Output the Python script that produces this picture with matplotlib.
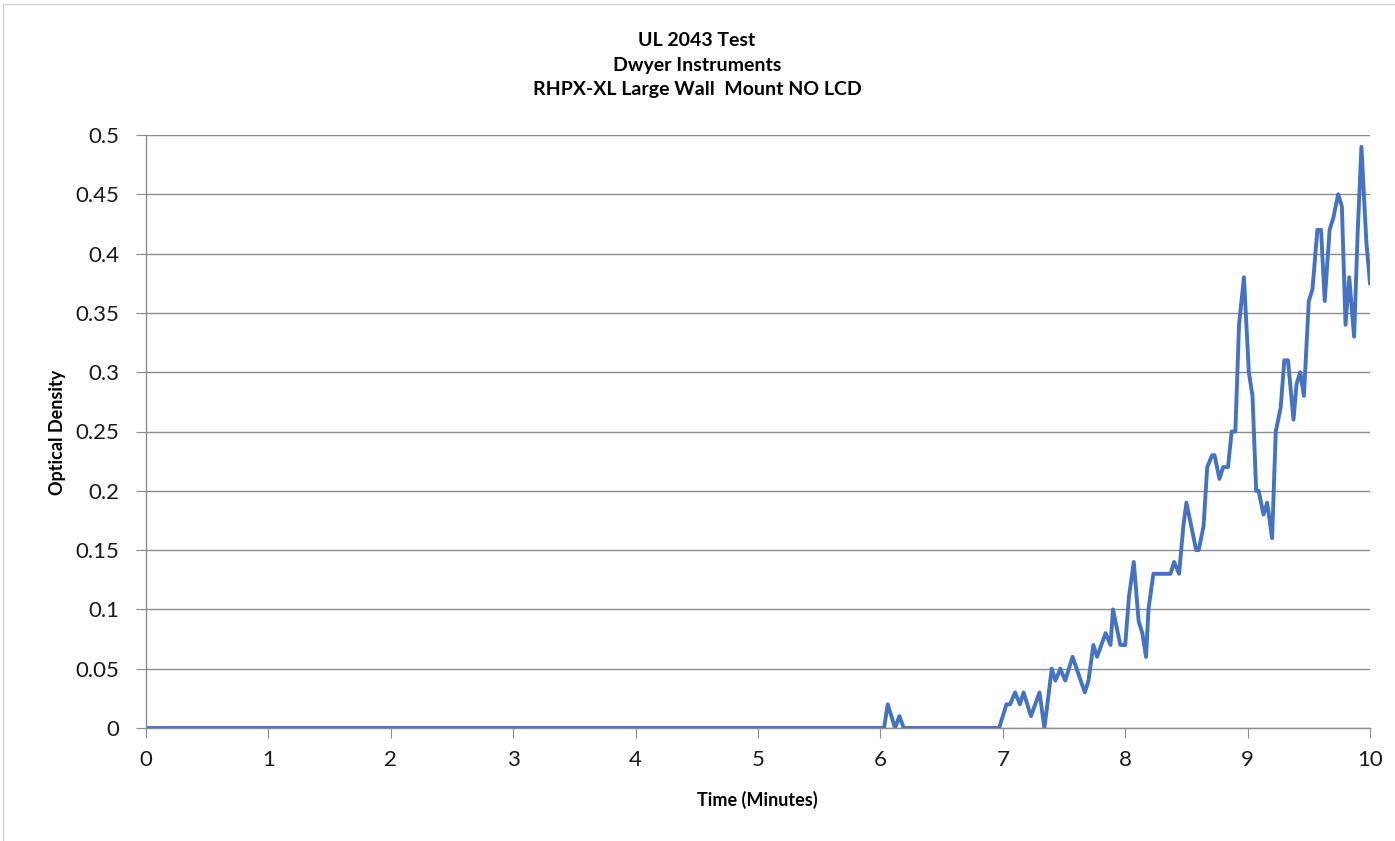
import matplotlib.pyplot as plt
from matplotlib.lines import Line2D

# readings (minutes, optical density)
time_min = [0.0, 6.03, 6.06, 6.12, 6.155, 6.19, 6.97,
            7.03, 7.06, 7.10, 7.14, 7.17, 7.23, 7.30, 7.34, 7.40, 7.43, 7.47, 7.51,
            7.57, 7.67, 7.70, 7.74, 7.77, 7.84, 7.88, 7.90, 7.96, 8.00,
            8.03, 8.07, 8.11, 8.14, 8.17, 8.19, 8.23, 8.37, 8.40, 8.44, 8.475,
            8.50, 8.58, 8.60, 8.64, 8.67, 8.71, 8.73, 8.77, 8.80, 8.84, 8.87,
            8.90, 8.93, 8.97, 9.01, 9.04, 9.07, 9.09, 9.13, 9.16, 9.20, 9.23,
            9.27, 9.30, 9.33, 9.375, 9.40, 9.43, 9.46, 9.50, 9.53, 9.57, 9.60,
            9.63, 9.67, 9.70, 9.74, 9.77, 9.80, 9.83, 9.87, 9.90, 9.93, 9.97, 10.0]
density = [0.0, 0.0, 0.02, 0.0, 0.01, 0.0, 0.0,
           0.02, 0.02, 0.03, 0.02, 0.03, 0.01, 0.03, 0.0, 0.05, 0.04, 0.05, 0.04,
           0.06, 0.03, 0.04, 0.07, 0.06, 0.08, 0.07, 0.10, 0.07, 0.07,
           0.11, 0.14, 0.09, 0.08, 0.06, 0.10, 0.13, 0.13, 0.14, 0.13, 0.17,
           0.19, 0.15, 0.15, 0.17, 0.22, 0.23, 0.23, 0.21, 0.22, 0.22, 0.25,
           0.25, 0.34, 0.38, 0.30, 0.28, 0.20, 0.20, 0.18, 0.19, 0.16, 0.25,
           0.27, 0.31, 0.31, 0.26, 0.29, 0.30, 0.28, 0.36, 0.37, 0.42, 0.42,
           0.36, 0.42, 0.43, 0.45, 0.44, 0.34, 0.38, 0.33, 0.42, 0.49, 0.41, 0.375]

x_ticks = list(range(0, 11))
y_ticks = [0, 0.05, 0.1, 0.15, 0.2, 0.25, 0.3, 0.35, 0.4, 0.45, 0.5]
y_tick_labels = ["0", "0.05", "0.1", "0.15", "0.2", "0.25", "0.3", "0.35", "0.4", "0.45", "0.5"]
title_lines = ["UL 2043 Test", "Dwyer Instruments", "RHPX-XL Large Wall  Mount NO LCD"]

plt.rcParams["font.family"] = ["Lato", "DejaVu Sans"]

W, H = 1395, 841
fig = plt.figure(figsize = (W / 100, H / 100), dpi = 100)
fig.patch.set_facecolor("white")

# chart frame (only top and left edges show in the picture)
fig.lines.append(Line2D([3 / W, 3 / W, 1], [0, 1 - 4 / H, 1 - 4 / H], transform = fig.transFigure,
                        color = "#d0d0d0", linewidth = 1))

ax = fig.add_axes([146 / W, 1 - 728 / H, (1370 - 146) / W, (728 - 135) / H])

ax.plot(time_min, density, color = "#4472c4", linewidth = 2.8, solid_joinstyle = "round")

ax.set_xlim(0, 10)
ax.set_ylim(0, 0.5)
ax.set_xticks(x_ticks)
ax.set_yticks(y_ticks)
ax.set_yticklabels(y_tick_labels)

ax.grid(axis = "y", color = "#8c8c8c", linewidth = 1)
ax.set_axisbelow(True)

for side in ("right", "top"):
    ax.spines[side].set_visible(False)
for side in ("left", "bottom"):
    ax.spines[side].set_color("#8c8c8c")
    ax.spines[side].set_linewidth(1)

ax.tick_params(axis = "x", direction = "out", length = 7, color = "#8c8c8c", labelsize = 16, pad = 9, labelcolor = "#1a1a1a")
ax.tick_params(axis = "y", direction = "out", length = 7, color = "#8c8c8c", labelsize = 16, pad = 12, labelcolor = "#1a1a1a")

fig.text(757 / W, 1 - 800 / H, "Time (Minutes)", ha = "center", va = "center", fontsize = 13, fontweight = "bold")
fig.text(58 / W, 1 - 432 / H, "Optical Density", ha = "center", va = "center", rotation = 90, fontsize = 13, fontweight = "bold")

for i, line in enumerate(title_lines):
    fig.text(697 / W, 1 - (40 + 25 * i) / H, line, ha = "center", va = "center", fontsize = 14, fontweight = "bold")

fig.savefig("out.png", dpi = 100)
